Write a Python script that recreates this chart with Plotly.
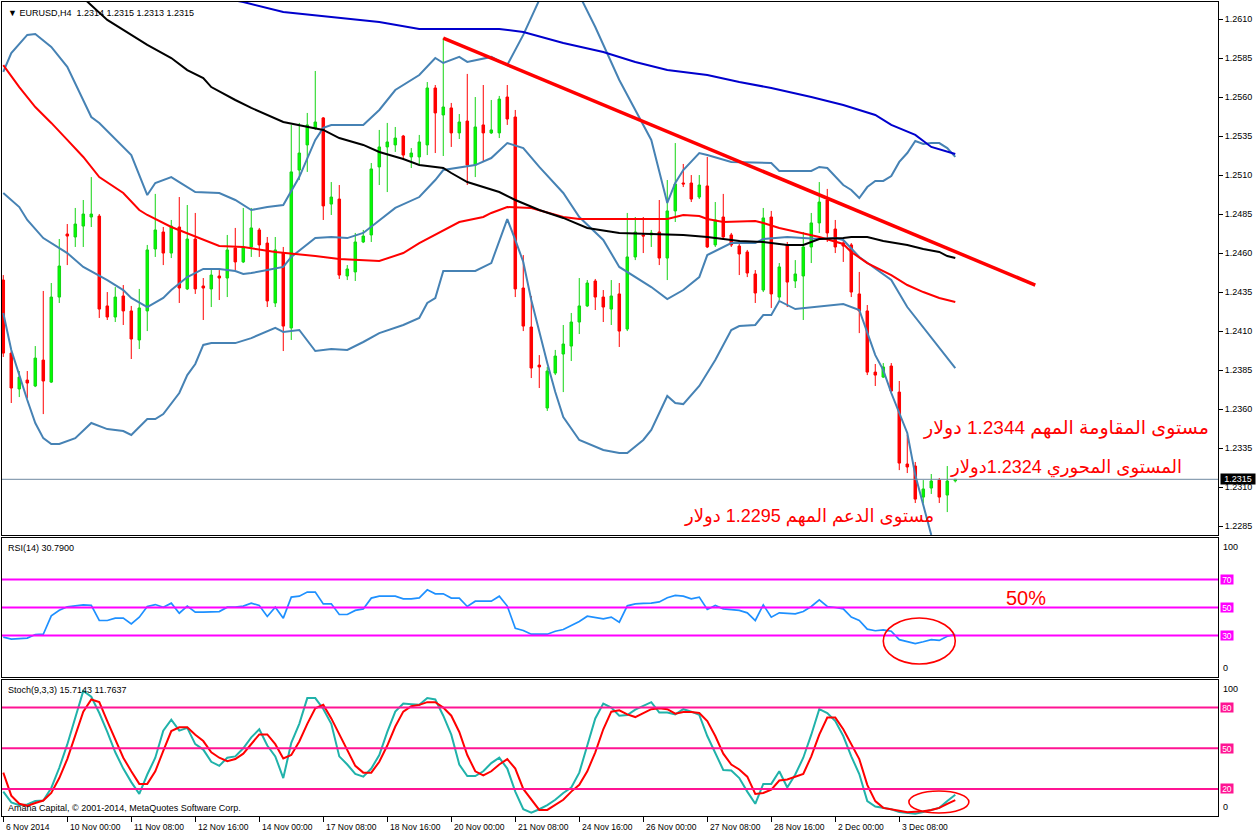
import plotly.graph_objects as go

# ---------------- data ----------------
bars = list(range(120))
opens = [1.24427,1.23959,1.23729,1.23786,1.23748,1.23914,1.23773,1.24318,1.24722,1.24703,
         1.24773,1.24831,1.24837,1.24261,1.24190,1.24325,1.24229,1.24043,1.24229,1.24626,
         1.24735,1.24600,1.24767,1.24370,1.24690,1.24389,1.24370,1.24453,1.24440,1.24632,
         1.24543,1.24639,1.24748,1.24664,1.24280,1.24600,1.24120,1.25132,1.25293,1.25402,
         1.25466,1.24914,1.24946,1.24453,1.24479,1.24671,1.24716,1.25152,1.25280,1.25293,
         1.25350,1.25216,1.25216,1.25293,1.25658,1.25485,1.25530,1.25370,1.25446,1.25164,
         1.25421,1.25370,1.25370,1.25600,1.25472,1.24376,1.24126,1.23882,1.23607,1.23831,
         1.23953,1.24004,1.24158,1.24261,1.24421,1.24318,1.24241,1.24338,1.24113,1.24575,
         1.24716,1.24716,1.24735,1.24568,1.24870,1.25049,1.25049,1.24959,1.25030,1.24652,
         1.24831,1.24716,1.24645,1.24607,1.24466,1.24363,1.24831,1.24318,1.24652,1.24421,
         1.24453,1.24639,1.24793,1.24940,1.24754,1.24664,1.24652,1.24338,1.24229,1.23837,
         1.23805,1.23876,1.23709,1.23248,1.23235,1.23036,1.23094,1.23145,1.23049,1.23140]
highs = [1.24459,1.23972,1.23844,1.23844,1.24004,1.24357,1.24408,1.24690,1.24786,1.24889,
         1.24940,1.25087,1.24850,1.24350,1.24382,1.24395,1.24261,1.24370,1.24652,1.24979,
         1.24767,1.24812,1.24959,1.24908,1.24857,1.24440,1.24491,1.24491,1.24716,1.24761,
         1.24889,1.24889,1.24761,1.24703,1.24703,1.24639,1.25421,1.25434,1.25498,1.25767,
         1.25472,1.25055,1.25036,1.24523,1.24729,1.24748,1.25177,1.25389,1.25434,1.25408,
         1.25357,1.25273,1.25357,1.25696,1.25677,1.25978,1.25562,1.25491,1.25748,1.25600,
         1.25677,1.25581,1.25607,1.25677,1.25517,1.24587,1.24325,1.23946,1.23870,1.23979,
         1.24139,1.24216,1.24440,1.24427,1.24434,1.24363,1.24427,1.24408,1.24857,1.24831,
         1.24831,1.24748,1.24940,1.25068,1.25305,1.25171,1.25100,1.25100,1.25216,1.24927,
         1.24979,1.24729,1.24684,1.24620,1.24491,1.24889,1.24870,1.24536,1.24671,1.24555,
         1.24735,1.24857,1.25055,1.25011,1.24812,1.24696,1.24664,1.24479,1.24267,1.23889,
         1.23895,1.23895,1.23780,1.23434,1.23261,1.23145,1.23184,1.23158,1.23235,1.23150]
lows = [1.23934,1.23639,1.23677,1.23671,1.23741,1.23568,1.23767,1.24280,1.24523,1.24639,
        1.24639,1.24767,1.24184,1.24171,1.24158,1.24139,1.23921,1.23985,1.24100,1.24575,
        1.24523,1.24568,1.24280,1.24363,1.24338,1.24171,1.24254,1.24299,1.24318,1.24491,
        1.24536,1.24575,1.24575,1.24254,1.24254,1.23972,1.24043,1.25068,1.25120,1.25389,
        1.24812,1.24844,1.24434,1.24427,1.24421,1.24664,1.24671,1.25036,1.24991,1.25248,
        1.25196,1.25145,1.25164,1.25228,1.25241,1.25222,1.25280,1.25331,1.25036,1.25087,
        1.25184,1.25363,1.25337,1.25421,1.24318,1.24100,1.23799,1.23735,1.23588,1.23818,
        1.23709,1.23908,1.24081,1.24254,1.24235,1.24158,1.24139,1.23998,1.24100,1.24555,
        1.24600,1.24639,1.24523,1.24427,1.24799,1.25023,1.24927,1.24946,1.24632,1.24639,
        1.24684,1.24639,1.24459,1.24446,1.24280,1.24350,1.24248,1.24299,1.24254,1.24376,
        1.24171,1.24536,1.24729,1.24671,1.24600,1.24543,1.24318,1.24087,1.23818,1.23748,
        1.23799,1.23709,1.23209,1.23190,1.22998,1.22998,1.23056,1.22998,1.22940,1.23130]
closes = [1.23959,1.23735,1.23805,1.23767,1.23927,1.23780,1.24318,1.24517,1.24709,1.24786,
          1.24850,1.24850,1.24241,1.24190,1.24318,1.24229,1.24049,1.24248,1.24620,1.24748,
          1.24600,1.24773,1.24376,1.24690,1.24370,1.24376,1.24459,1.24440,1.24620,1.24543,
          1.24639,1.24761,1.24652,1.24293,1.24620,1.24132,1.25120,1.25241,1.25421,1.25440,
          1.24902,1.24959,1.24459,1.24498,1.24671,1.24709,1.25139,1.25280,1.25312,1.25337,
          1.25228,1.25241,1.25312,1.25658,1.25498,1.25536,1.25370,1.25440,1.25164,1.25408,
          1.25370,1.25389,1.25587,1.25459,1.24370,1.24132,1.23863,1.23870,1.23844,1.23940,
          1.24017,1.24158,1.24261,1.24408,1.24318,1.24254,1.24325,1.24100,1.24575,1.24735,
          1.24709,1.24729,1.24568,1.24870,1.25043,1.25043,1.24946,1.25036,1.24639,1.24812,
          1.24703,1.24652,1.24594,1.24472,1.24344,1.24825,1.24338,1.24511,1.24414,1.24466,
          1.24639,1.24793,1.24927,1.24729,1.24639,1.24645,1.24350,1.24229,1.23837,1.23818,
          1.23870,1.23716,1.23254,1.23229,1.23023,1.23088,1.23139,1.23036,1.23139,1.23150]
last_price = 1.2315

bb_up_idx = [0,1,3,4,6,8,11,12,16,18,19,21,22,24,27,29,31,33,35,37,39,40,41,45,47,49,52,54,55,57,
             58,61,63,64,65,67,69,72,74,77,79,81,83,84,85,87,88,91,96,97,101,102,103,105,106,107,
             108,109,110,111,112,113,114,115,116,117,118,119]
bb_up_val = [1.25761,1.25882,1.25998,1.26004,1.25921,1.25793,1.25472,1.25434,1.25228,1.24972,
             1.25049,1.25087,1.25055,1.24991,1.24985,1.24940,1.24876,1.24895,1.24908,1.25087,
             1.25325,1.25402,1.25421,1.25421,1.25517,1.25645,1.25741,1.25850,1.25818,1.25857,
             1.25825,1.25857,1.25805,1.25902,1.25998,1.26222,1.26446,1.26254,1.26049,1.25709,
             1.25517,1.25325,1.24921,1.25049,1.25132,1.25241,1.25228,1.25184,1.25177,1.25126,
             1.25126,1.25152,1.25145,1.25036,1.25004,1.24953,1.25023,1.25062,1.25062,1.25094,
             1.25184,1.25241,1.25318,1.25299,1.25305,1.25305,1.25273,1.25216]
bb_mid_idx = [0,2,3,5,8,10,13,15,16,18,20,21,23,25,27,29,30,31,33,35,36,39,41,43,45,47,49,52,54,55,
              59,61,63,65,67,70,72,75,77,81,83,85,87,88,90,91,94,95,98,100,102,104,105,107,111,113,
              115,117,119]
bb_mid_val = [1.24985,1.24895,1.24812,1.24696,1.24600,1.24511,1.24427,1.24363,1.24312,1.24254,
              1.24312,1.24363,1.24446,1.24498,1.24498,1.24485,1.24466,1.24472,1.24491,1.24511,
              1.24575,1.24696,1.24703,1.24696,1.24729,1.24812,1.24889,1.24959,1.25068,1.25132,
              1.25164,1.25209,1.25305,1.25273,1.25152,1.24985,1.24831,1.24684,1.24511,1.24382,
              1.24305,1.24363,1.24446,1.24587,1.24639,1.24664,1.24664,1.24690,1.24703,1.24696,
              1.24690,1.24696,1.24684,1.24575,1.24427,1.24254,1.24126,1.23998,1.23863]
bb_low_idx = [0,1,3,4,5,6,7,9,11,13,15,16,18,19,20,22,23,24,25,26,29,31,34,35,37,39,41,43,45,47,
              50,52,53,54,55,59,61,63,64,65,66,67,68,69,70,72,75,77,78,80,81,83,84,85,87,89,91,92,
              94,95,96,97,99,105,107,109,110,111,113,114,115,116,117,119]
bb_low_val = [1.24216,1.23979,1.23658,1.23511,1.23414,1.23376,1.23376,1.23414,1.23511,1.23472,
              1.23459,1.23434,1.23536,1.23536,1.23568,1.23703,1.23818,1.23889,1.24011,1.24023,
              1.24023,1.24055,1.24120,1.24094,1.24107,1.23972,1.23985,1.23979,1.24030,1.24087,
              1.24139,1.24184,1.24280,1.24312,1.24485,1.24485,1.24536,1.24818,1.24684,1.24543,
              1.24299,1.24087,1.23895,1.23709,1.23549,1.23402,1.23338,1.23318,1.23318,1.23402,
              1.23466,1.23684,1.23639,1.23632,1.23748,1.23914,1.24107,1.24132,1.24139,1.24203,
              1.24203,1.24293,1.24241,1.24273,1.24235,1.23946,1.23850,1.23703,1.23447,1.23177,
              1.22985,1.22793,1.22632,1.22376]
ma_red_idx = [0,2,4,6,8,10,12,15,17,18,21,25,27,30,34,39,42,47,50,52,55,57,60,61,63,66,70,72,75,83,
              85,87,88,90,94,95,97,100,102,105,106,108,111,113,115,117,119]
ma_red_val = [1.25805,1.25664,1.25536,1.25434,1.25325,1.25216,1.25087,1.24985,1.24876,1.24844,
              1.24767,1.24684,1.24645,1.24639,1.24607,1.24581,1.24562,1.24549,1.24600,1.24664,
              1.24748,1.24799,1.24831,1.24857,1.24895,1.24889,1.24831,1.24818,1.24818,1.24818,
              1.24844,1.24837,1.24818,1.24799,1.24805,1.24793,1.24761,1.24729,1.24703,1.24658,
              1.24607,1.24536,1.24459,1.24395,1.24350,1.24312,1.24286]
ma_blk_idx = [0,5,10,13,16,18,21,23,25,26,29,31,35,38,40,42,45,47,50,52,55,56,58,62,64,67,70,73,77,85,
              88,92,95,98,100,102,105,106,108,110,113,115,117,118,119]
ma_blk_val = [1.26607,1.26402,1.26235,1.26094,1.25998,1.25934,1.25850,1.25773,1.25722,1.25664,
              1.25581,1.25530,1.25440,1.25408,1.25389,1.25337,1.25293,1.25248,1.25203,1.25164,
              1.25145,1.25113,1.25055,1.24991,1.24940,1.24876,1.24825,1.24761,1.24729,1.24716,
              1.24703,1.24677,1.24671,1.24652,1.24652,1.24690,1.24696,1.24703,1.24703,1.24677,
              1.24652,1.24626,1.24607,1.24581,1.24568]
ma_blu_idx = [0,15,30,35,41,47,52,62,65,70,75,79,83,88,92,96,101,105,109,111,114,116,119]
ma_blu_val = [1.26510,1.26350,1.26209,1.26145,1.26113,1.26081,1.26036,1.26036,1.26017,1.25946,
              1.25889,1.25825,1.25773,1.25741,1.25696,1.25658,1.25600,1.25549,1.25485,1.25421,
              1.25357,1.25280,1.25235]
trend_idx = [55, 129]
trend_val = [1.25978, 1.24395]

rsi = [28.8,27.4,27.8,28.1,30.7,30.9,44.0,48.0,50.5,51.0,
       51.9,51.5,40.7,40.7,42.4,42.4,38.3,43.1,50.7,52.1,
       50.2,53.1,45.9,51.0,46.7,46.7,46.9,47.1,50.2,50.2,
       51.0,53.1,51.4,43.6,50.2,42.4,57.4,58.1,61.0,61.0,
       52.6,52.6,45.0,45.0,47.9,49.0,56.7,58.1,58.1,58.1,
       56.2,56.2,56.9,62.6,59.8,59.8,56.7,56.7,50.7,54.5,
       54.5,54.5,58.1,51.0,35.2,33.6,30.9,30.9,30.9,33.0,
       34.3,37.1,40.0,43.8,43.1,41.9,43.1,39.5,51.2,52.6,
       53.0,53.1,54.0,57.0,58.6,58.1,56.2,57.4,48.6,51.4,
       49.0,48.4,47.9,46.2,40.7,51.9,43.1,46.2,45.8,45.5,
       47.1,50.7,55.5,50.7,50.0,49.0,43.1,40.7,34.5,33.4,
       34.0,33.0,27.0,25.5,24.2,25.5,27.0,26.5,29.5,30.79]
stoch_k = [18,10,8,8.5,11,11.4,20.7,35.6,52.8,72,
           92.3,88,76,62,47,35,25,16.3,30.6,43,
           63,71,63,65,53,49,40,37,43,44,
           50,58,64,52,44,28,54,68,87,87,
           79,68,44,38,31,29,35,45,62,77,
           83,82.5,82,87,86,74,60,38,29.5,29.5,
           33,39,43,35,18,5,2.5,5,8,12,
           17,21,32,52,72,83,80,74,74.5,78.5,
           81,84,76.3,76.3,75,78.8,77,74.6,59,47,
           34,33.6,28,18,9,23.7,23.7,33,21,30.6,
           43,60,78.8,76,70,59,44,31,11,7,
           6,5,3,2.2,1.7,3,4.7,6,11,15.71]
stoch_d = [32,15,9,7.5,9.6,11.4,17,28,42,60,
           77,86,84,70,56,43,33,23.7,23.7,33,
           48,62.7,65.5,65.5,60,55.3,47,43,40.5,42,
           46,52.8,60.2,60.2,53,42.5,45,55,68,79.5,
           82,72,60,49,37,32,32,40,52,66,
           77,81,82,84,84,80,74,62,45,33,
           30,33,38,42,35,20,12,4.5,4.5,8.4,
           12,18,23,33,47,64,77,78,75,73,
           76,78.8,79.5,78.8,75.5,76.8,76.8,76,70,59,
           46,38,34.3,29,16.3,17,19.5,26.2,26.9,29,
           31,44,60,72.6,72.6,64,53,42,23,11,
           6,4.7,3.8,2.7,3,3.5,4.5,6,9,11.76]
rsi_levels = [70, 50, 30]
stoch_levels = [80, 50, 20]
price_ticks = [1.2285,1.2310,1.2335,1.2360,1.2385,1.2410,1.2435,1.2460,1.2485,1.2510,1.2535,1.2560,1.2585,1.2610]
price_tick_text = ["1.2285","1.2310","1.2335","1.2360","1.2385","1.2410","1.2435","1.2460","1.2485",
                   "1.2510","1.2535","1.2560","1.2585","1.2610"]
time_label_bars = [0,8,16,24,32,40,48,56,64,72,80,88,96,104,112]
time_labels = ["6 Nov 2014","10 Nov 00:00","11 Nov 08:00","12 Nov 16:00","14 Nov 00:00","17 Nov 08:00",
               "18 Nov 16:00","20 Nov 00:00","21 Nov 08:00","24 Nov 16:00","26 Nov 00:00","27 Nov 08:00",
               "28 Nov 16:00","2 Dec 00:00","3 Dec 08:00"]

# ---------------- styling ----------------
FONT = "Liberation Sans, Arial, sans-serif"
AR_FONT = "Liberation Sans, DejaVu Sans, sans-serif"
XR = [-0.16, 151.84]

fig = go.Figure()
fig.add_trace(go.Candlestick(
    x=bars, open=opens, high=highs, low=lows, close=closes,
    increasing=dict(line=dict(color='#14D414', width=1), fillcolor='#00FF00'),
    decreasing=dict(line=dict(color='#FF0000', width=1), fillcolor='#FF0000'),
    whiskerwidth=0, xaxis='x', yaxis='y', showlegend=False, hoverinfo='skip'))

lines_main = [
    (bb_up_idx, bb_up_val, '#4682B4', 2),
    (bb_mid_idx, bb_mid_val, '#4682B4', 2),
    (bb_low_idx, bb_low_val, '#4682B4', 2),
    (ma_red_idx, ma_red_val, '#FF0000', 2),
    (ma_blk_idx, ma_blk_val, '#000000', 2),
    (ma_blu_idx, ma_blu_val, '#0000CD', 2),
    (trend_idx, trend_val, '#FF0000', 3.5),
]
for xi, yv, col, w in lines_main:
    fig.add_trace(go.Scatter(x=xi, y=yv, mode='lines', line=dict(color=col, width=w),
                             xaxis='x', yaxis='y', showlegend=False, hoverinfo='skip'))

fig.add_trace(go.Scatter(x=bars, y=rsi, mode='lines', line=dict(color='#1E90FF', width=1.7),
                         xaxis='x2', yaxis='y2', showlegend=False, hoverinfo='skip'))
fig.add_trace(go.Scatter(x=bars, y=stoch_k, mode='lines', line=dict(color='#20B2AA', width=2),
                         xaxis='x3', yaxis='y3', showlegend=False, hoverinfo='skip'))
fig.add_trace(go.Scatter(x=bars, y=stoch_d, mode='lines', line=dict(color='#FF0000', width=2),
                         xaxis='x3', yaxis='y3', showlegend=False, hoverinfo='skip'))

frame = dict(showgrid=False, zeroline=False, showline=True, mirror=True, linecolor='black',
             linewidth=1, fixedrange=True)
xcommon = dict(range=XR, showticklabels=False, **frame)

shapes = [dict(type='line', xref='x domain', x0=0, x1=1, yref='y', y0=last_price, y1=last_price,
               line=dict(color='#7089A0', width=1), layer='above')]
for lv in rsi_levels:
    shapes.append(dict(type='line', xref='x2 domain', x0=0, x1=1, yref='y2', y0=lv, y1=lv,
                       line=dict(color='#FF00FF', width=2), layer='above'))
for lv in stoch_levels:
    shapes.append(dict(type='line', xref='x3 domain', x0=0, x1=1, yref='y3', y0=lv, y1=lv,
                       line=dict(color='#FF1493', width=2), layer='above'))
shapes.append(dict(type='circle', xref='x2', yref='y2', x0=110, x1=119, y0=9.6, y1=42.5,
                   line=dict(color='#FF0000', width=1.6)))
shapes.append(dict(type='circle', xref='x3', yref='y3', x0=113.2, x1=120.7, y0=2.2, y1=18.5,
                   line=dict(color='#FF0000', width=1.6)))

ann = []
def txt(text, **kw):
    d = dict(text=text, showarrow=False, font=dict(family=FONT, size=9, color='black'))
    d.update(kw)
    ann.append(d)

txt("▼ EURUSD,H4  1.2314 1.2315 1.2313 1.2315", xref='paper', x=0, xanchor='left', xshift=4,
    yref='paper', y=1, yanchor='top', yshift=-4)
txt("RSI(14) 30.7900", xref='paper', x=0, xanchor='left', xshift=4,
    yref='y2 domain', y=1, yanchor='top', yshift=-3)
txt("Stoch(9,3,3) 15.7143 11.7637", xref='paper', x=0, xanchor='left', xshift=4,
    yref='y3 domain', y=1, yanchor='top', yshift=-3)
txt("Amana Capital, © 2001-2014, MetaQuotes Software Corp.", xref='paper', x=0, xanchor='left', xshift=4,
    yref='y3 domain', y=0, yanchor='bottom', yshift=1)

# current price box
txt(f"{last_price:.4f}", xref='paper', x=1, xanchor='left', xshift=2, yref='y', y=last_price,
    bgcolor='black', font=dict(family=FONT, size=9, color='white'), width=34, height=10, borderpad=0)
# RSI scale labels
txt("100", xref='paper', x=1, xanchor='left', xshift=3, yref='y2 domain', y=1, yanchor='top', yshift=-2)
txt("0", xref='paper', x=1, xanchor='left', xshift=3, yref='y2 domain', y=0, yanchor='bottom', yshift=2)
for lv in rsi_levels:
    txt(str(lv), xref='paper', x=1, xanchor='left', xshift=2, yref='y2', y=lv, bgcolor='#FF00FF',
        font=dict(family=FONT, size=8.5, color='white'), width=12, height=9, borderpad=0)
# Stoch scale labels
txt("100", xref='paper', x=1, xanchor='left', xshift=3, yref='y3 domain', y=1, yanchor='top', yshift=-2)
txt("0", xref='paper', x=1, xanchor='left', xshift=3, yref='y3 domain', y=0, yanchor='bottom', yshift=2)
for lv in stoch_levels:
    txt(str(lv), xref='paper', x=1, xanchor='left', xshift=2, yref='y3', y=lv, bgcolor='#FF1493',
        font=dict(family=FONT, size=8.5, color='white'), width=12, height=9, borderpad=0)
# time labels
for b, lab in zip(time_label_bars, time_labels):
    txt(lab, xref='x3', x=b, xanchor='left', xshift=1, yref='paper', y=0, yanchor='top', yshift=-4,
        font=dict(family=FONT, size=8.5, color='black'))

# Arabic notes
red19 = dict(family=AR_FONT, size=19, color='#FF0000')
red18 = dict(family=AR_FONT, size=18, color='#FF0000')
txt("مستوى المقاومة المهم 1.2344 دولار", xref='x', x=132.9, xanchor='center', yref='y', y=1.2348,
    font=red19)
txt("المستوى المحوري 1.2324دولار", xref='x', x=132.9, xanchor='center', yref='y', y=1.23228,
    font=red18)
txt("مستوى الدعم المهم 1.2295 دولار", xref='x', x=100.75, xanchor='center', yref='y', y=1.2291,
    font=red18)
txt("50%", xref='x2', x=127.8, xanchor='center', yref='y2', y=57, font=dict(family=FONT, size=20, color='#FF0000'))

fig.update_layout(
    width=1258, height=835, margin=dict(l=2, r=40, t=2, b=19),
    paper_bgcolor='white', plot_bgcolor='white', showlegend=False, hovermode=False,
    boxgap=0.55,
    xaxis=dict(anchor='y', rangeslider=dict(visible=False), ticks='', **xcommon),
    xaxis2=dict(anchor='y2', ticks='', **xcommon),
    xaxis3=dict(anchor='y3', ticks='outside', ticklen=5, tickcolor='black', tickwidth=1,
                tickvals=time_label_bars, **xcommon),
    yaxis=dict(domain=[0.3452, 1.0], range=[1.22793, 1.26209], side='right', anchor='x',
               tickvals=price_ticks, ticktext=price_tick_text, ticks='outside', ticklen=4,
               tickcolor='black', tickfont=dict(family=FONT, size=9, color='black'), **frame),
    yaxis2=dict(domain=[0.1702, 0.3421], range=[0, 100], side='right', anchor='x2',
                showticklabels=False, ticks='', **frame),
    yaxis3=dict(domain=[0.0, 0.1665], range=[0, 100], side='right', anchor='x3',
                showticklabels=False, ticks='', **frame),
    shapes=shapes, annotations=ann,
)

fig.write_html("out.html")
